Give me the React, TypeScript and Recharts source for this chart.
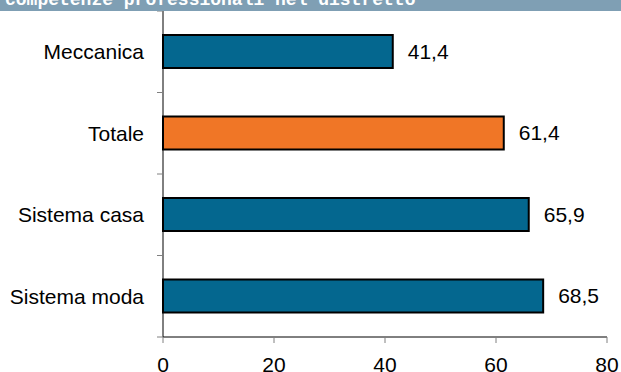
import React from "react";
import { BarChart, Bar, XAxis, YAxis, Cell, LabelList } from "recharts";

const categories = ["Meccanica", "Totale", "Sistema casa", "Sistema moda"];
const values = [41.4, 61.4, 65.9, 68.5];
const barColors = ["#04678f", "#f07626", "#04678f", "#04678f"];
const xTicks = [0, 20, 40, 60, 80];
const title = "competenze professionali nel distretto";

const data = categories.map((c, i) => ({ name: c, value: values[i] }));

const FONT = "'Liberation Sans', Arial, sans-serif";
const TICK_SIZE = 6;
const TICK_MARGIN = 13;

const CategoryTick = (props: any) => {
  const { x, y, payload, index } = props;
  const half = payload && payload.offset ? payload.offset : 0;
  const axisX = x + TICK_SIZE + TICK_MARGIN;
  const last = index === categories.length - 1;
  return (
    <g>
      <line x1={axisX - TICK_SIZE} x2={axisX} y1={y - half} y2={y - half} stroke="#808080" />
      {last && (
        <line x1={axisX - TICK_SIZE} x2={axisX} y1={y + half} y2={y + half} stroke="#808080" />
      )}
      <text x={x} y={y} dy="0.355em" textAnchor="end" fill="#000" fontSize={21} fontFamily={FONT}>
        {payload.value}
      </text>
    </g>
  );
};

export default function App() {
  return (
    <div style={{ position: "absolute", left: 0, top: 0, width: 621, height: 372, background: "#fff" }}>
      <BarChart
        width={621}
        height={372}
        data={data}
        layout="vertical"
        margin={{ top: 11, right: 14, bottom: 0, left: 0 }}
        style={{ fontFamily: FONT }}
      >
        <YAxis
          type="category"
          dataKey="name"
          width={163}
          axisLine={{ stroke: "#000" }}
          tickLine={false}
          tickSize={TICK_SIZE}
          tickMargin={TICK_MARGIN}
          tick={<CategoryTick />}
        />
        <XAxis
          type="number"
          domain={[0, 80]}
          ticks={xTicks}
          height={35}
          axisLine={{ stroke: "#000" }}
          tickLine={{ stroke: "#808080" }}
          tickSize={6}
          tickMargin={14}
          tick={{ fill: "#000", fontSize: 21, fontFamily: FONT }}
        />
        <Bar
          dataKey="value"
          barSize={33}
          stroke="#000"
          strokeWidth={2}
          isAnimationActive={false}
        >
          {data.map((d, i) => (
            <Cell key={d.name} fill={barColors[i]} />
          ))}
          <LabelList
            dataKey="value"
            position="right"
            offset={15}
            fill="#000"
            fontSize={21}
            fontFamily={FONT}
            formatter={(v: number) => v.toFixed(1).replace(".", ",")}
          />
        </Bar>
      </BarChart>
      <svg width={621} height={11} style={{ position: "absolute", left: 0, top: 0 }}>
        <rect x={0} y={0} width={621} height={11} fill="#7f9fb4" />
        <text
          x={5}
          y={5}
          fill="#fff"
          fontSize={18}
          fontWeight="bold"
          fontFamily="'Liberation Mono', 'Courier New', monospace"
        >
          {title}
        </text>
      </svg>
    </div>
  );
}
